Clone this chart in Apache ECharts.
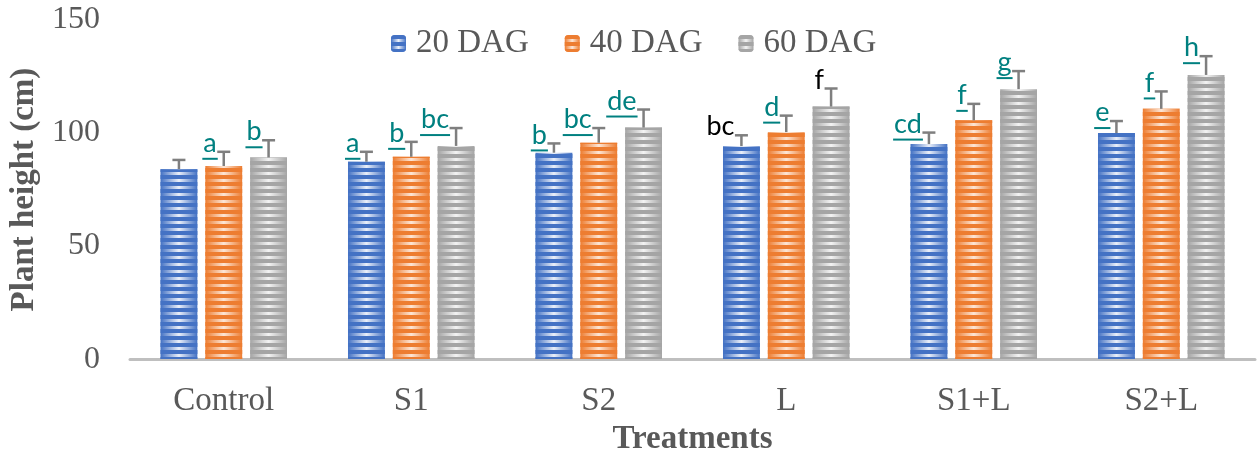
<!DOCTYPE html>
<html>
<head>
<meta charset="utf-8">
<script src="https://cdn.jsdelivr.net/npm/echarts@6/dist/echarts.min.js"></script>
<style>
html,body{margin:0;padding:0;background:#fff;}
#chart{width:1258px;height:461px;}
</style>
</head>
<body>
<div id="chart"></div>
<script>
const categories = ['Control', 'S1', 'S2', 'L', 'S1+L', 'S2+L'];
const seriesNames = ['20 DAG', '40 DAG', '60 DAG'];
const dag20 = [84.0, 87.3, 91.3, 94.2, 95.1, 100.0];
const dag40 = [85.4, 89.5, 95.7, 100.4, 105.6, 110.7];
const dag60 = [89.2, 94.3, 102.4, 111.7, 119.4, 125.7];
const err20 = [4.1, 4.4, 4.1, 4.8, 5.1, 5.3];
const err40 = [6.3, 6.6, 6.5, 7.3, 7.3, 7.7];
const err60 = [7.6, 7.9, 8.0, 8.0, 8.0, 8.3];
const letters20 = ['', 'a', 'b', 'bc', 'cd', 'e'];
const letters40 = ['a', 'b', 'bc', 'd', 'f', 'f'];
const letters60 = ['b', 'bc', 'de', 'f', 'g', 'h'];
const underlined20 = [false, true, true, false, true, true];
const underlined40 = [true, true, true, true, true, true];
const underlined60 = [true, true, true, false, true, true];
const yTicks = [0, 50, 100, 150];

const values = [dag20, dag40, dag60];
const errs = [err20, err40, err60];
const letters = [letters20, letters40, letters60];
const underlined = [underlined20, underlined40, underlined60];

const mainColors = ['#4472C4', '#ED7D31', '#A5A5A5'];
const lightColors = ['#eaeff9', '#fde6d6', '#f3f3f3'];
const BAR_W = 0.1966;   // fraction of band
const BAR_GAP = 0.216;  // fraction of bar width

const measureCtx = document.createElement('canvas').getContext('2d');
const LABEL_FONT = '27px Lato';
measureCtx.font = LABEL_FONT;

const chart = echarts.init(document.getElementById('chart'));

const barSeries = seriesNames.map((name, si) => ({
  name: name,
  type: 'bar',
  data: values[si],
  barWidth: (BAR_W * 100) + '%',
  barGap: (BAR_GAP * 100) + '%',
  itemStyle: {
    color: new echarts.graphic.LinearGradient(0, 0, 1, 0, [
      { offset: 0, color: mainColors[si] },
      { offset: 0.5, color: lightColors[si] },
      { offset: 1, color: mainColors[si] }
    ]),
    decal: {
      symbol: 'rect',
      symbolSize: 1,
      dashArrayX: [1, 0],
      dashArrayY: [4, 3],
      rotation: 0,
      color: mainColors[si]
    }
  },
  emphasis: { disabled: true },
  z: 2
}));

const errSeries = seriesNames.map((name, si) => ({
  type: 'custom',
  name: name + ' err',
  z: 5,
  silent: true,
  data: values[si].map((v, i) => [i, v + errs[si][i]]),
  renderItem: function (params, api) {
    const i = params.dataIndex;
    const band = api.size([1, 0])[0];
    const barW = band * BAR_W;
    const off = (si - 1) * barW * (1 + BAR_GAP);
    const p0 = api.coord([i, values[si][i]]);
    const p1 = api.coord([i, values[si][i] + errs[si][i]]);
    const x = p0[0] + off;
    const children = [
      { type: 'line', shape: { x1: x, y1: p0[1], x2: x, y2: p1[1] }, style: { stroke: '#7f7f7f', lineWidth: 2.5 } },
      { type: 'line', shape: { x1: x - 6.5, y1: p1[1], x2: x + 6.5, y2: p1[1] }, style: { stroke: '#7f7f7f', lineWidth: 2.5 } }
    ];
    const t = letters[si][i];
    if (t) {
      const ul = underlined[si][i];
      const w = measureCtx.measureText(t).width;
      const right = x - 7;
      const baseY = p1[1] + 5;
      const col = ul ? '#008080' : '#000000';
      children.push({
        type: 'text',
        style: { text: t, x: right, y: baseY, align: 'right', verticalAlign: 'bottom', font: LABEL_FONT, fill: col }
      });
      if (ul) {
        children.push({ type: 'line', shape: { x1: right - w - 1, y1: baseY + 2, x2: right + 1, y2: baseY + 2 }, style: { stroke: col, lineWidth: 2 } });
      }
    }
    return { type: 'group', children: children };
  }
}));

chart.setOption({
  animation: false,
  grid: { left: 126, right: 3, top: 20, bottom: 98 },
  legend: {
    data: seriesNames,
    left: 386,
    top: 22,
    itemWidth: 15,
    itemHeight: 17,
    itemGap: 36,
    textStyle: { fontFamily: 'Liberation Serif', fontSize: 33, color: '#595959', padding: [0, 0, 0, 5] }
  },
  xAxis: {
    type: 'category',
    data: categories,
    axisTick: { show: false },
    axisLine: { lineStyle: { color: '#bfbfbf', width: 3 } },
    axisLabel: { fontFamily: 'Liberation Serif', fontSize: 33, color: '#595959', margin: 26 },
    name: 'Treatments',
    nameLocation: 'middle',
    nameGap: 59,
    nameTextStyle: { fontFamily: 'Liberation Serif', fontSize: 33, fontWeight: 'bold', color: '#595959' }
  },
  yAxis: {
    type: 'value',
    min: yTicks[0],
    max: yTicks[yTicks.length - 1],
    interval: yTicks[1] - yTicks[0],
    splitLine: { show: false },
    axisLine: { show: false },
    axisTick: { show: false },
    axisLabel: { fontFamily: 'Liberation Serif', fontSize: 32, color: '#595959', margin: 30 },
    name: 'Plant height (cm)',
    nameLocation: 'middle',
    nameGap: 89,
    nameTextStyle: { fontFamily: 'Liberation Serif', fontSize: 33, fontWeight: 'bold', color: '#595959' }
  },
  series: barSeries.concat(errSeries)
});
</script>
</body>
</html>
